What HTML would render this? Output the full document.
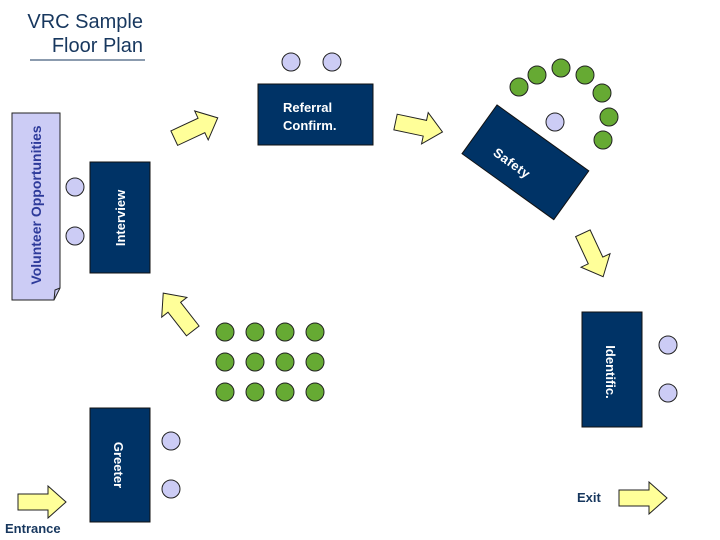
<!DOCTYPE html>
<html><head><meta charset="utf-8"><style>
html,body{margin:0;padding:0;background:#fff;}
svg{display:block;font-family:"Liberation Sans",Arial,sans-serif;}
</style></head><body>
<svg width="720" height="540" viewBox="0 0 720 540" xmlns="http://www.w3.org/2000/svg">
<defs>
<polygon id="arr" points="-24,-8 6,-8 6,-16 24,0 6,16 6,8 -24,8" fill="#ffff99" stroke="#222" stroke-width="1"/>
</defs>
<text x="143" y="28" text-anchor="end" font-size="20" fill="#17375e">VRC Sample</text>
<text x="143" y="52" text-anchor="end" font-size="20" fill="#17375e">Floor Plan</text>
<line x1="30" y1="60" x2="145" y2="60" stroke="#17375e" stroke-width="1"/>

<!-- Volunteer -->
<polygon points="12,113 60,113 60,288 54,300 12,300" fill="#ccccf5" stroke="#222" stroke-width="1"/>
<polyline points="54,300 55,290 60,288" fill="none" stroke="#222"/>
<text transform="translate(41,205) rotate(-90)" text-anchor="middle" font-size="14" font-weight="bold" fill="#2d3a9a">Volunteer Opportunities</text>

<!-- dark rects -->
<rect x="90" y="162" width="60" height="111" fill="#003366" stroke="#111"/>
<text transform="translate(125,218) rotate(-90)" text-anchor="middle" font-size="13" font-weight="bold" fill="#fff">Interview</text>
<rect x="258" y="84" width="115" height="61" fill="#003366" stroke="#111"/>
<text x="283" y="112" font-size="13" font-weight="bold" fill="#fff">Referral</text>
<text x="283" y="130" font-size="13" font-weight="bold" fill="#fff">Confirm.</text>
<rect x="90" y="408" width="60" height="114" fill="#003366" stroke="#111"/>
<text transform="translate(114,465) rotate(90)" text-anchor="middle" font-size="13" font-weight="bold" fill="#fff">Greeter</text>
<rect x="582" y="312" width="60" height="115" fill="#003366" stroke="#111"/>
<text transform="translate(606,372) rotate(90)" text-anchor="middle" font-size="13" font-weight="bold" fill="#fff">Identific.</text>
<g transform="translate(525,162) rotate(35.7)">
<rect x="-56" y="-30" width="113" height="60" fill="#003366" stroke="#111"/>
<text x="-31" y="13" font-size="13" font-weight="bold" fill="#fff" letter-spacing="0.5">Safety</text>
</g>

<!-- lavender circles -->
<g fill="#ccccf5" stroke="#222" stroke-width="1">
<circle cx="291" cy="62" r="9"/><circle cx="332" cy="62" r="9"/>
<circle cx="75" cy="187" r="9"/><circle cx="75" cy="236" r="9"/>
<circle cx="171" cy="441" r="9"/><circle cx="171" cy="489" r="9"/>
<circle cx="668" cy="345" r="9"/><circle cx="668" cy="393" r="9"/>
<circle cx="555" cy="122" r="9"/>
</g>
<!-- green circles -->
<g fill="#66aa33" stroke="#222" stroke-width="1">
<circle cx="519" cy="87" r="9"/><circle cx="537" cy="75" r="9"/><circle cx="561" cy="68" r="9"/>
<circle cx="585" cy="75" r="9"/><circle cx="602" cy="93" r="9"/><circle cx="609" cy="117" r="9"/><circle cx="603" cy="140" r="9"/>
<circle cx="225" cy="332" r="9"/><circle cx="255" cy="332" r="9"/><circle cx="285" cy="332" r="9"/><circle cx="315" cy="332" r="9"/>
<circle cx="225" cy="362" r="9"/><circle cx="255" cy="362" r="9"/><circle cx="285" cy="362" r="9"/><circle cx="315" cy="362" r="9"/>
<circle cx="225" cy="392" r="9"/><circle cx="255" cy="392" r="9"/><circle cx="285" cy="392" r="9"/><circle cx="315" cy="392" r="9"/>
</g>

<!-- arrows -->
<use href="#arr" transform="translate(196,128) rotate(-25)"/>
<use href="#arr" transform="translate(419,127) rotate(12)"/>
<use href="#arr" transform="translate(593,255) rotate(65)"/>
<use href="#arr" transform="translate(178,312) rotate(-128)"/>
<use href="#arr" transform="translate(42,502)"/>
<use href="#arr" transform="translate(643,498)"/>

<text x="5" y="533" font-size="13" font-weight="bold" fill="#17375e">Entrance</text>
<text x="577" y="502" font-size="13" font-weight="bold" fill="#17375e">Exit</text>
</svg>
</body></html>
